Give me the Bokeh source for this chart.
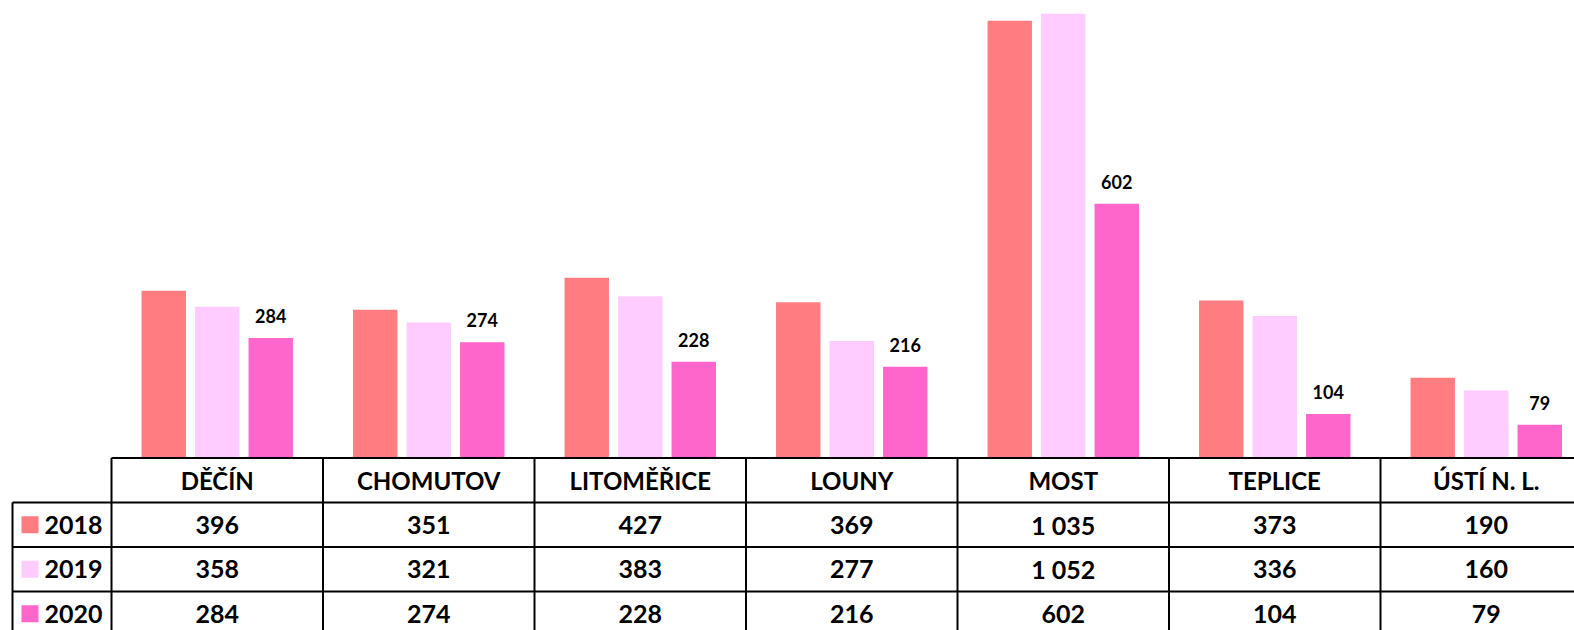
from bokeh.plotting import figure
from bokeh.models import Range1d, ColumnDataSource
from bokeh.core.properties import value
from bokeh.embed import file_html
from bokeh.resources import INLINE

categories = ["DĚČÍN", "CHOMUTOV", "LITOMĚŘICE", "LOUNY", "MOST", "TEPLICE", "ÚSTÍ N. L."]
years = ["2018", "2019", "2020"]
v2018 = [396, 351, 427, 369, 1035, 373, 190]
v2019 = [358, 321, 383, 277, 1052, 336, 160]
v2020 = [284, 274, 228, 216, 602, 104, 79]
colors = ["#FF7C80", "#FFCCFF", "#FF66CC"]

FONT = "Lato"
W, H = 1574, 630
LEFT = 111          # x of first column boundary
BASE = 457.5        # y of baseline
CAT_PX = 211.5
Y_PX = 0.4224       # px per unit
ROW_PX = 44.5
rowh = ROW_PX / Y_PX
x0 = -LEFT / CAT_PX
x1 = (W - LEFT) / CAT_PX
y1 = BASE / Y_PX
y0 = -(H - BASE) / Y_PX
labcol = (12 - LEFT) / CAT_PX

p = figure(width=W, height=H, output_backend="svg", toolbar_location=None,
           x_range=Range1d(x0, x1), y_range=Range1d(y0, y1), min_border=0)
p.axis.visible = False
p.grid.visible = False
p.outline_line_color = None
p.background_fill_color = "white"
p.border_fill_color = "white"

n = len(categories)
xs = [i + 0.5 for i in range(n)]
series = [v2018, v2019, v2020]
offsets = [-0.253, 0.0, 0.253]
for k, vals in enumerate(series):
    src = ColumnDataSource(dict(x=[x + offsets[k] for x in xs], top=vals))
    p.vbar(x="x", top="top", bottom=0, width=0.21, source=src,
           fill_color=colors[k], line_color=None)

# data labels for 2020
src_lab = ColumnDataSource(dict(x=[x + offsets[2] for x in xs], y=v2020,
                                t=[str(v) for v in v2020]))
p.text(x="x", y="y", text="t", source=src_lab, text_align="center",
       text_baseline="bottom", y_offset=-15, text_font=value(FONT),
       text_font_style="bold", text_font_size="18px", text_color="black")

# table lines
lw = 2
p.segment(x0=[0], y0=[0], x1=[x1 + 1], y1=[0], line_color="black", line_width=lw)
for r in range(1, 4):
    p.segment(x0=[labcol], y0=[-r * rowh], x1=[x1 + 1], y1=[-r * rowh],
              line_color="black", line_width=lw)
p.segment(x0=[labcol], y0=[-rowh], x1=[labcol], y1=[y0 - 10],
          line_color="black", line_width=lw)
for i in range(n + 1):
    p.segment(x0=[i], y0=[0], x1=[i], y1=[y0 - 10], line_color="black", line_width=lw)

# header
p.text(x=xs, y=[-0.5 * rowh] * n, text=categories, text_align="center",
       text_baseline="middle", text_font=value(FONT), text_font_style="bold",
       text_font_size="24px", text_color="black")

def fmt(v):
    return f"{v:,}".replace(",", " ")

for r, vals in enumerate(series):
    yc = -(r + 1.5) * rowh
    p.text(x=xs, y=[yc] * n, text=[fmt(v) for v in vals], text_align="center",
           text_baseline="middle", text_font=value(FONT), text_font_style="bold",
           text_font_size="25px", text_color="black")
    # legend key
    p.rect(x=[(29.5 - LEFT) / CAT_PX], y=[yc], width=17, height=17,
           width_units="screen", height_units="screen",
           fill_color=colors[r], line_color=None)
    p.text(x=[(44 - LEFT) / CAT_PX], y=[yc], text=[years[r]], text_align="left",
           text_baseline="middle", text_font=value(FONT), text_font_style="bold",
           text_font_size="25px", text_color="black")

open("out.html", "w").write(file_html(p, INLINE))
